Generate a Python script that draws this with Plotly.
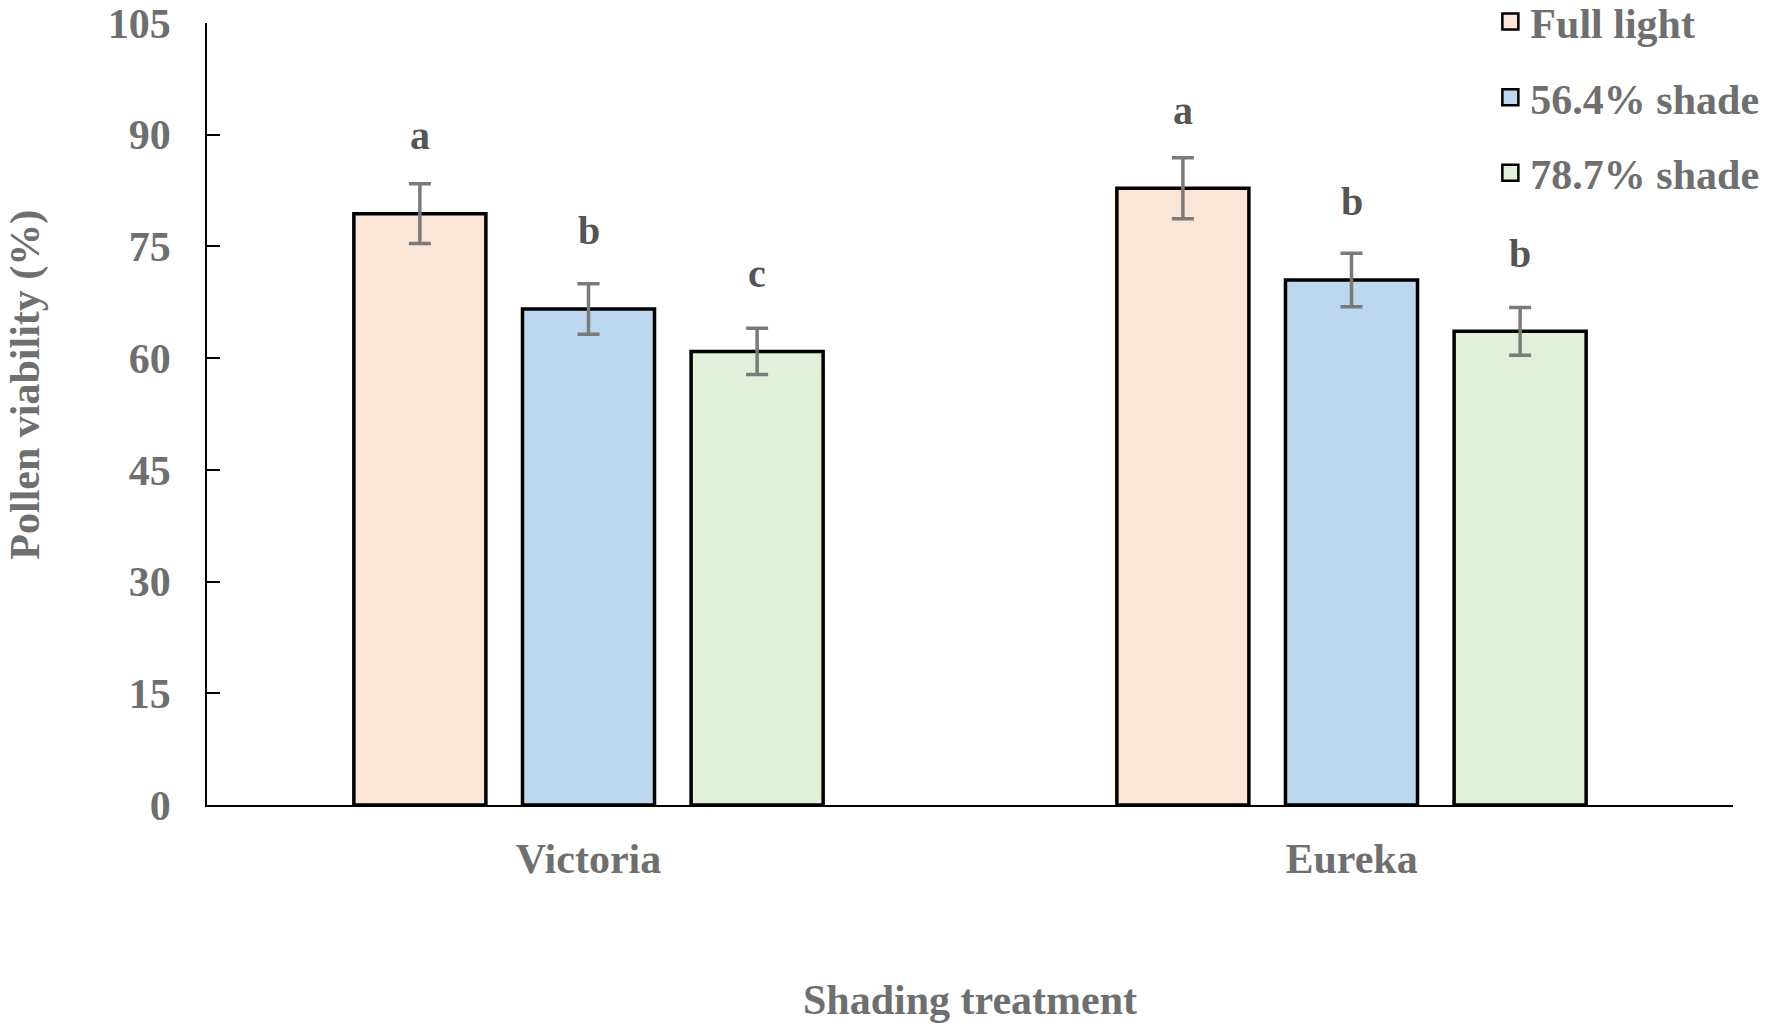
import plotly.graph_objects as go

cultivars = ["Victoria", "Eureka"]
treatments = ["Full light", "56.4% shade", "78.7% shade"]
viability = {
    "Full light": [79.4, 82.8],
    "56.4% shade": [66.6, 70.5],
    "78.7% shade": [60.9, 63.6],
}
errors = {
    "Full light": [4.0, 4.1],
    "56.4% shade": [3.4, 3.6],
    "78.7% shade": [3.1, 3.2],
}
letters = {
    "Full light": ["a", "a"],
    "56.4% shade": ["b", "b"],
    "78.7% shade": ["c", "b"],
}
colors = {
    "Full light": "#FBE5D6",
    "56.4% shade": "#BDD7EE",
    "78.7% shade": "#E2F0D9",
}
y_ticks = [0, 15, 30, 45, 60, 75, 90, 105]

FONT = "Liberation Serif, Times New Roman, serif"
GREY = "#6f6f6f"

fig = go.Figure()
for i, t in enumerate(treatments):
    fig.add_trace(go.Bar(
        x=cultivars, y=viability[t], name=t, showlegend=False,
        marker=dict(color=colors[t], line=dict(color="black", width=3.5)),
        error_y=dict(type="data", array=errors[t], color="#7a7a7a",
                     thickness=3.5, width=11),
        offsetgroup=str(i),
    ))
    # legend entry
    fig.add_trace(go.Scatter(
        x=[None], y=[None], mode="markers", name=t, legendgroup=t,
        marker=dict(symbol="square", size=16, color=colors[t],
                    line=dict(color="black", width=2.5)),
    ))

# significance letters
n = len(treatments)
bargap = 0.337
slot = (1 - bargap) / n
for i, t in enumerate(treatments):
    for j, c in enumerate(cultivars):
        xpos = j - (1 - bargap) / 2 + slot * (i + 0.5)
        fig.add_annotation(
            x=xpos, y=viability[t][j], xref="x", yref="y",
            text=letters[t][j], showarrow=False, yshift=78,
            font=dict(family=FONT, size=40, color="#555555", weight="bold"),
        )

# y-axis title
fig.add_annotation(
    text="Pollen viability (%)", xref="paper", yref="paper",
    x=-0.119, y=0.538, xanchor="center", yanchor="middle",
    textangle=-90, showarrow=False,
    font=dict(family=FONT, size=42, color=GREY, weight="bold"),
)

fig.update_layout(
    width=1772, height=1032,
    margin=dict(l=207, r=39, t=23, b=227, autoexpand=False),
    paper_bgcolor="white", plot_bgcolor="white",
    barmode="group", bargap=bargap, bargroupgap=0.217,
    font=dict(family=FONT, size=42, color=GREY, weight="bold"),
    legend=dict(
        x=0.841, y=1.045, xanchor="left", yanchor="top",
        font=dict(family=FONT, size=42, color=GREY, weight="bold"),
        traceorder="grouped", tracegroupgap=18, itemwidth=30,
        bgcolor="rgba(0,0,0,0)",
    ),
    xaxis=dict(
        type="category", range=[-0.5, 1.5],
        showline=True, linecolor="black", linewidth=1.5,
        ticks="", showgrid=False, ticklabelstandoff=16,
        tickfont=dict(family=FONT, size=42, color=GREY, weight="bold"),
        title=dict(text="Shading treatment", standoff=103,
                   font=dict(family=FONT, size=42, color=GREY, weight="bold")),
    ),
    yaxis=dict(
        range=[0, 105], tickvals=y_ticks, showgrid=False, zeroline=False,
        showline=True, linecolor="black", linewidth=1.5,
        ticks="inside", ticklen=13, tickwidth=1.5, tickcolor="black",
        ticklabelstandoff=26, ticklabeloverflow="allow",
        tickfont=dict(family=FONT, size=42, color=GREY, weight="bold"),
    ),
)

fig.write_html("out.html", config={"displayModeBar": False},
               post_script="document.body.style.margin='0';")
